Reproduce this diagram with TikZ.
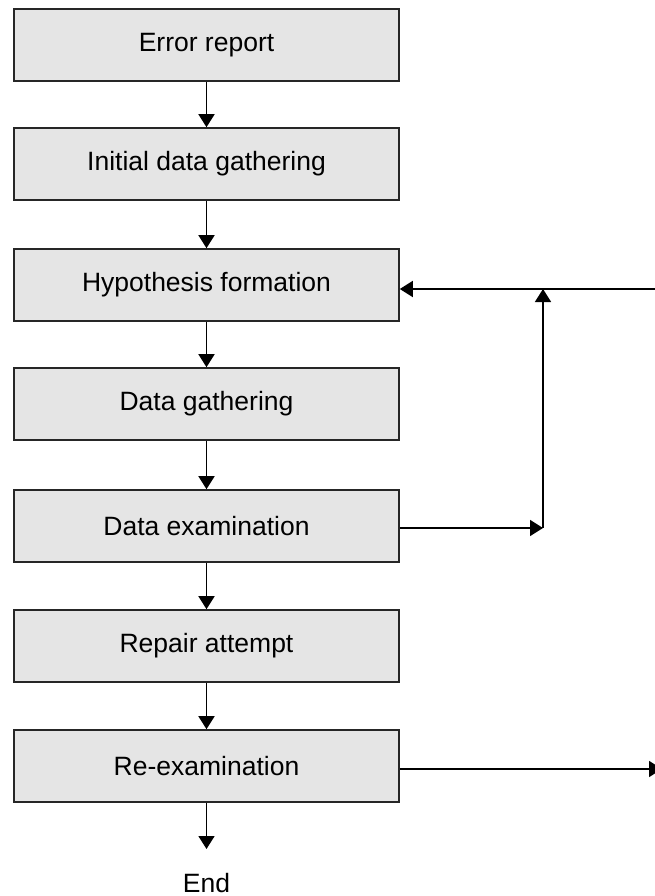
\documentclass[tikz,border=0pt]{standalone}
\usepackage{fontspec}
\setmainfont{Liberation Sans}
\usetikzlibrary{arrows.meta}
\begin{document}
\begin{tikzpicture}[x=1pt,y=-1pt,
  stepbox/.style={draw=black!85,line width=1.6pt,fill=black!10,rectangle,
    minimum width=385pt,minimum height=72pt,inner sep=0pt,
    font=\fontsize{26.5}{30}\selectfont},
  arr/.style={line width=1.6pt,-{Triangle[length=13pt,width=16pt]}},
  lbl/.style={font=\fontsize{26.5}{30}\selectfont,inner sep=0pt}]
\useasboundingbox (0,0) rectangle (655,896);
\node[stepbox] (err) at (206.5,45) {Error report};
\node[stepbox] (init) at (206.5,164) {Initial data gathering};
\node[stepbox] (hyp) at (206.5,285) {Hypothesis formation};
\node[stepbox] (dg) at (206.5,404) {Data gathering};
\node[stepbox] (dex) at (206.5,526) {Data examination};
\node[stepbox] (rep) at (206.5,646) {Repair attempt};
\node[stepbox] (rex) at (206.5,766) {Re-examination};
\node[lbl,anchor=base] (end) at (206.5,892) {End};
\coordinate (endtip) at (206.5,849);
\coordinate (fbR) at (660,289);
\coordinate (turn) at (543,528);
\coordinate (rxR) at (662,769);
\draw[arr] (err) -- (init);
\draw[arr] (init) -- (hyp);
\draw[arr] (hyp) -- (dg);
\draw[arr] (dg) -- (dex);
\draw[arr] (dex) -- (rep);
\draw[arr] (rep) -- (rex);
\draw[arr] (rex) -- (endtip);
\draw[arr] (fbR) -- (fbR -| hyp.east);
\draw[arr] (dex.east |- turn) -- (turn);
\draw[arr] (turn) -- (turn |- fbR);
\draw[arr] (rex.east |- rxR) -- (rxR);
\end{tikzpicture}
\end{document}
